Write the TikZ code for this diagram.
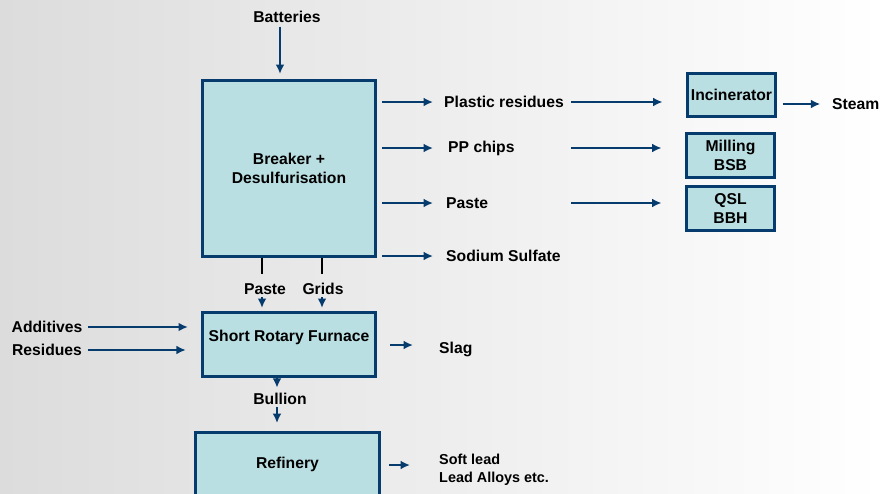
\documentclass[tikz,border=0pt]{standalone}
\usepackage{fontspec}
\setmainfont{Liberation Sans}
\usetikzlibrary{arrows.meta}
\definecolor{lineblue}{HTML}{063B6D}
\definecolor{boxfill}{HTML}{BADFE3}
\definecolor{bgleft}{HTML}{DCDCDC}

\begin{document}
\begin{tikzpicture}[
		x=0.03cm, y=-0.03cm,
		every node/.style={font=\fontsize{13.4}{16}\selectfont\bfseries, text=black, inner sep=0pt},
		box/.style={draw=lineblue, line width=2.6pt, fill=boxfill, align=center, font=\fontsize{13.4}{16.5}\selectfont\bfseries},
		flow/.style={draw=lineblue, line width=2.4pt, -{Latex[length=8pt,width=7.5pt]}},
		stub/.style={draw=black, line width=1.3pt},
		small/.style={font=\fontsize{12.3}{15.4}\selectfont\bfseries}
	]
		% Background
		\path[use as bounding box, left color=bgleft, right color=white] (0,0) rectangle (882,493);
		
		% Boxes
		\node[box, minimum width=5.2cm, minimum height=5.28cm] (brk) at (289,168.5) {Breaker +\\Desulfurisation};
		\node[box, minimum width=2.64cm, minimum height=1.29cm] (inc) at (731.5,95) {Incinerator};
		\node[box, minimum width=2.64cm, minimum height=1.32cm] (mill) at (730.5,155.5) {Milling\\BSB};
		\node[box, minimum width=2.64cm, minimum height=1.32cm] (qsl) at (730.5,208.5) {QSL\\BBH};
		\node[box, minimum width=5.2cm, minimum height=1.92cm, text height=9.4pt, text depth=14pt] (sfur) at (289,344.5) {Short Rotary Furnace};
		\node[box, minimum width=5.52cm, minimum height=1.89cm] (ref) at (287.5,464) {Refinery};
		
		% Labels
		\node (bat) at (287,17) {Batteries};
		\node[anchor=west] (pres) at (444,102) {Plastic residues};
		\node[anchor=west] (chips) at (448,148) {PP chips};
		\node[anchor=west] (paste) at (446,203) {Paste};
		\node[anchor=west] (sulf) at (446,256) {Sodium Sulfate};
		\node[anchor=west] (steam) at (832,104) {Steam};
		\node (pst) at (265,289) {Paste};
		\node (grd) at (323,289) {Grids};
		\node (add) at (47,327) {Additives};
		\node (res) at (47,350) {Residues};
		\node[anchor=west] (slag) at (439,349) {Slag};
		\node (bul) at (280,399) {Bullion};
		\node[small, anchor=west, align=left] (soft) at (439,470) {Soft lead\\Lead Alloys etc.};
		
		% Helper points
		\coordinate (batx) at (280,0);
		\coordinate (outx) at (433,0);
		\coordinate (midx) at (571,0);
		\coordinate (px) at (262,274);
		\coordinate (gx) at (322,274);
		\coordinate (bx) at (277,0);
		\coordinate (slagin) at (413,345);
		\coordinate (softin) at (410,465);
		
		% Edges
		\draw[flow, shorten <=3pt, shorten >=4.3pt] (bat.south -| batx) -- (brk.north -| batx);
		\draw[flow, shorten <=4.3pt] (brk.east |- pres.west) -- (pres.west -| outx);
		\draw[flow, shorten <=4.3pt] (brk.east |- chips.west) -- (chips.west -| outx);
		\draw[flow, shorten <=4.3pt] (brk.east |- paste.west) -- (paste.west -| outx);
		\draw[flow, shorten <=4.3pt] (brk.east |- sulf.west) -- (sulf.west -| outx);
		\draw[flow, shorten >=20pt] (pres.west -| midx) -- (inc.west |- pres.west);
		\draw[flow, shorten >=20pt] (chips.west -| midx) -- (mill.west |- chips.west);
		\draw[flow, shorten >=20pt] (paste.west -| midx) -- (qsl.west |- paste.west);
		\draw[flow, shorten <=5pt, shorten >=10pt] (inc.east |- steam.west) -- (steam.west);
		\draw[stub] (brk.south -| px) -- (px);
		\draw[stub] (brk.south -| gx) -- (gx);
		\draw[flow, shorten <=2pt, shorten >=2.6pt] (pst.south -| px) -- (sfur.north -| px);
		\draw[flow, shorten <=2pt, shorten >=2.6pt] (grd.south -| gx) -- (sfur.north -| gx);
		\draw[flow, shorten <=5pt, shorten >=11pt] (add.east) -- (sfur.west |- add.east);
		\draw[flow, shorten <=5pt, shorten >=12.8pt] (res.east) -- (sfur.west |- res.east);
		\draw[flow, shorten <=11pt] (sfur.east |- slagin) -- (slagin);
		\draw[flow, shorten >=4.5pt] (sfur.south -| bx) -- (bul.north -| bx);
		\draw[flow, shorten <=2pt, shorten >=6.8pt] (bul.south -| bx) -- (ref.north -| bx);
		\draw[flow, shorten <=6.8pt] (ref.east |- softin) -- (softin);
	\end{tikzpicture}
\end{document}
